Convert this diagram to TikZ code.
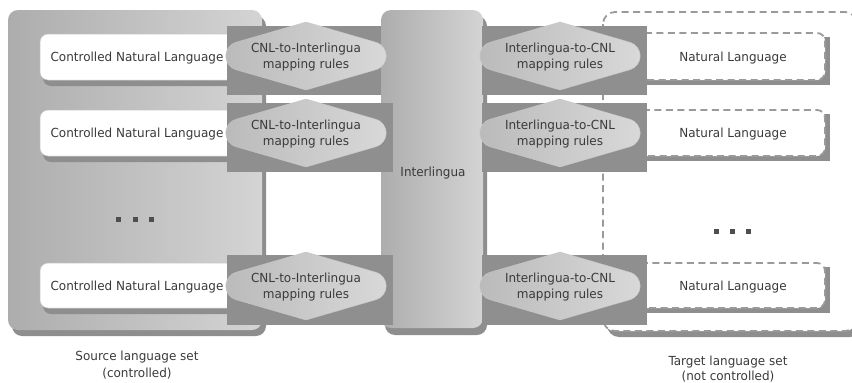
\documentclass[tikz,border=0pt]{standalone}
\usepackage{fontspec}
\setmainfont{DejaVu Sans}[FakeStretch=0.96]
\definecolor{setA}{HTML}{ADADAD}
\definecolor{setB}{HTML}{D4D4D4}
\definecolor{shd}{HTML}{8E8E8E}
\definecolor{bandc}{HTML}{8F8F8F}
\definecolor{diaA}{HTML}{BABABA}
\definecolor{diaB}{HTML}{D9D9D9}
\definecolor{txt}{HTML}{3A3A3A}
\definecolor{dashc}{HTML}{9A9A9A}
\definecolor{cnlborder}{HTML}{C4C4C4}
\newcommand\mapdia[3]{%
  \path[left color=diaA, right color=diaB, draw=diaA!80!white, line width=0.4pt]
    (#1-69,#2-14) -- (#1,#2-34) -- (#1+69,#2-14)
    .. controls (#1+84,#2-10) and (#1+84,#2+10) .. (#1+69,#2+14)
    -- (#1,#2+34) -- (#1-69,#2+14)
    .. controls (#1-84,#2+10) and (#1-84,#2-10) .. cycle;
  \node[maptext] (#3) at (#1,#2) {};%
}
\begin{document}
\begin{tikzpicture}[x=1pt,y=-1pt,
  lbl/.style={text=txt, font=\fontsize{12.5}{16.5}\selectfont, inner sep=0pt, align=center},
  maptext/.style={inner sep=0pt},
  setshade/.style={left color=setA, right color=setB, rounded corners=10pt},
  shadowfill/.style={fill=shd},
  bandfill/.style={fill=bandc},
  dashline/.style={draw=dashc, line width=1.8pt, dash pattern=on 7pt off 4.5pt},
  cnlbox/.style={fill=white, draw=cnlborder, line width=0.5pt, rounded corners=8pt},
  nlbox/.style={fill=white, rounded corners=8pt},
  dot/.style={fill=txt!90!white}
]
\useasboundingbox (0,0) rectangle (852,383);
\clip (0,0) rectangle (852,383);

% target language set (dashed)
\fill[shadowfill, rounded corners=12pt] (607,17) rectangle (862,337);
\fill[white, rounded corners=12pt] (603,12) rectangle (857,331);
\draw[dashline, rounded corners=12pt] (603,12) rectangle (857,331);

% source language set
\fill[shadowfill, rounded corners=10pt] (12,16) rectangle (266,336);
\path[setshade] (8,10) rectangle (262,330);

% CNL boxes
\foreach \ya/\yb in {34/80, 110/156, 263/308}{
  \fill[shadowfill, rounded corners=8pt] (43,\ya+6) rectangle (238,\yb+6);
  \path[cnlbox] (40,\ya) rectangle (235,\yb);
}

% NL boxes
\foreach \ya/\yb in {33/80, 110/156, 263/308}{
  \fill[shadowfill] (630,\ya+4) rectangle (830,\yb+5);
  \path[nlbox] (625,\ya) rectangle (825,\yb);
  \draw[dashline, rounded corners=8pt] (625,\ya) rectangle (825,\yb);
}

% band 1 left (under interlingua)
\fill[bandfill] (227,26) rectangle (385,95);

% interlingua
\fill[shadowfill, rounded corners=10pt] (385,16) rectangle (487,335);
\path[setshade] (381,10) rectangle (483,328);

% remaining bands
\fill[bandfill] (227,103) rectangle (393,172);
\fill[bandfill] (227,255) rectangle (393,325);
\fill[bandfill] (482,26) rectangle (647,95);
\fill[bandfill] (482,103) rectangle (647,172);
\fill[bandfill] (482,255) rectangle (647,325);

% mapping rule shapes
\mapdia{306}{56}{m1}
\mapdia{306}{133}{m2}
\mapdia{306}{286}{m3}
\mapdia{560}{56}{r1}
\mapdia{560}{133}{r2}
\mapdia{560}{286}{r3}

\node[lbl] (t1) at (306,57) {CNL-to-Interlingua\\mapping rules};
\node[lbl] (t2) at (306,134) {CNL-to-Interlingua\\mapping rules};
\node[lbl] (t3) at (306,287) {CNL-to-Interlingua\\mapping rules};
\node[lbl] (u1) at (560,57) {Interlingua-to-CNL\\mapping rules};
\node[lbl] (u2) at (560,134) {Interlingua-to-CNL\\mapping rules};
\node[lbl] (u3) at (560,287) {Interlingua-to-CNL\\mapping rules};

% texts
\node[lbl] (c1) at (137,58) {Controlled Natural Language};
\node[lbl] (c2) at (137,134) {Controlled Natural Language};
\node[lbl] (c3) at (137,287) {Controlled Natural Language};
\node[lbl] (n1) at (733,58) {Natural Language};
\node[lbl] (n2) at (733,134) {Natural Language};
\node[lbl] (n3) at (733,287) {Natural Language};
\node[lbl] (il) at (433,173) {Interlingua};

% ellipsis
\foreach \x in {118,135,151}{\fill[dot] (\x-2.5,216.5) rectangle (\x+2.5,221.5);}
\foreach \x in {716,732,748}{\fill[dot] (\x-2.5,228.5) rectangle (\x+2.5,233.5);}

\node[lbl] (src) at (137,365) {Source language set\\(controlled)};
\node[lbl, font=\fontsize{12.5}{15}\selectfont] (tgt) at (728,369) {Target language set\\(not controlled)};
\end{tikzpicture}
\end{document}
